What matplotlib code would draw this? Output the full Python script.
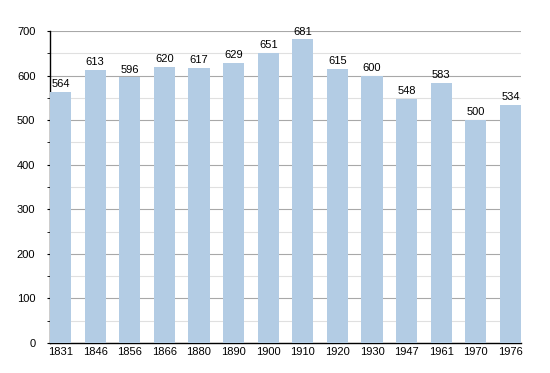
import matplotlib
matplotlib.use("Agg")
import matplotlib.pyplot as plt
from matplotlib.ticker import MultipleLocator

plt.rcParams["font.family"] = ["Liberation Sans", "DejaVu Sans"]

years = ["1831", "1846", "1856", "1866", "1880", "1890", "1900", "1910",
         "1920", "1930", "1947", "1961", "1970", "1976"]
population = [564, 613, 596, 620, 617, 629, 651, 681, 615, 600, 548, 583, 500, 534]

fig = plt.figure(figsize=(5.5, 3.73), dpi=100)
ax = fig.add_axes([50/550, 30/373, 471/550, 312/373])

w = 0.61
x = list(range(len(years)))
ax.bar(x, population, width=w, align="edge", color="#b3cce4", zorder=3)
for xi, v in zip(x, population):
    ax.text(xi + w/2, v + 6, str(v), ha="center", va="bottom", fontsize=8, zorder=4)

ax.set_xlim(0, len(years) - 1 + w)
ax.set_ylim(0, 700)
ax.set_xticks([xi + w/2 for xi in x])
ax.set_xticklabels(years)
ax.tick_params(axis="x", length=0, labelsize=8, pad=3)
ax.yaxis.set_major_locator(MultipleLocator(100))
ax.yaxis.set_minor_locator(MultipleLocator(50))
ax.tick_params(axis="y", which="major", length=2.5, labelsize=8, pad=8)
ax.tick_params(axis="y", which="minor", length=2)
ax.grid(axis="y", which="major", color="#a8a8a8", linewidth=0.8, zorder=0)
ax.grid(axis="y", which="minor", color="#e0e0e0", linewidth=0.8, zorder=0)
for s in ["top", "right"]:
    ax.spines[s].set_visible(False)
ax.spines["left"].set_linewidth(1.0)
ax.spines["bottom"].set_linewidth(1.0)

fig.savefig("out.png", dpi=100)
